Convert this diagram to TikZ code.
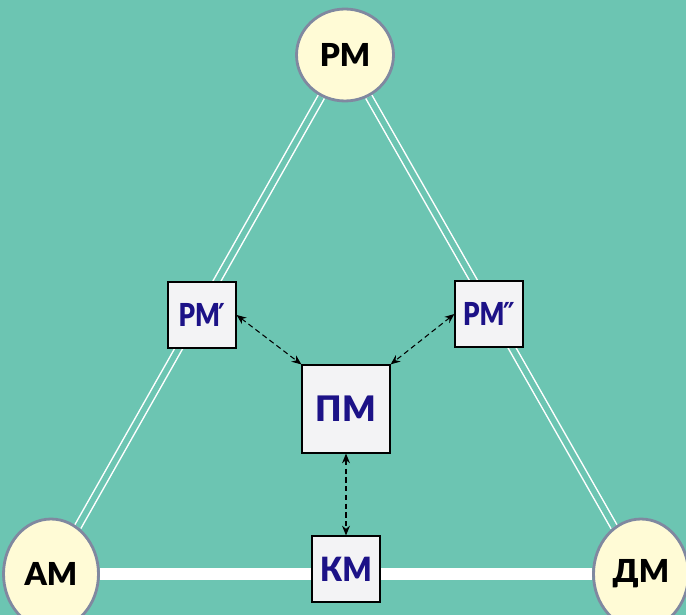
\documentclass[tikz,border=0pt]{standalone}
\usepackage{fontspec}
\setmainfont{Lato}
\newfontfamily\heavy{Lato Black}
\newfontfamily\primefont{DejaVu Sans}
\usetikzlibrary{arrows.meta,shapes.geometric,backgrounds}
\definecolor{sea}{RGB}{108,197,178}
\definecolor{cream}{RGB}{255,251,214}
\definecolor{rim}{RGB}{128,136,160}
\definecolor{ink}{RGB}{28,18,135}
\definecolor{paper}{RGB}{243,243,245}
\newcommand\narrow[1]{\scalebox{0.82}[1]{#1}}

\begin{document}
\begin{tikzpicture}[x=0.02cm,y=-0.02cm,
	model/.style={ellipse,draw=rim,line width=1.6pt,fill=cream,inner sep=0pt,
		minimum width=1.9cm,minimum height=2.2cm,font=\heavy\fontsize{18}{20}\selectfont},
	sub/.style={rectangle,draw=black,line width=0.7pt,fill=paper,inner sep=0pt,
		minimum width=1.36cm,minimum height=1.32cm,text=ink,font=\heavy\fontsize{19}{21}\selectfont},
	side/.style={draw=white,line width=0.85pt,double=sea,double distance=3.1pt},
	base/.style={draw=white,line width=7pt},
	link/.style={densely dashed,line width=0.6pt,{Stealth[length=5.5pt,width=4.5pt]}-{Stealth[length=5.5pt,width=4.5pt]}}]
		%%%%% START %%%%%
		
		\useasboundingbox (0,0) rectangle (686,615);
		
		% models
		\node[model,minimum width=1.94cm,minimum height=1.84cm] (rm) at (345,55) {РМ};
		\node[model] (am) at (51,574) {АМ};
		\node[model] (dm) at (641,574) {ДМ};
		
		% inner boxes
		\node[sub,font=\heavy\fontsize{18}{20}\selectfont] (rm1) at (202,315) {\narrow{РМ\kern-1pt{\primefont\bfseries ′}}};
		\node[sub,font=\heavy\fontsize{18}{20}\selectfont] (rm2) at (489,314) {\narrow{РМ\kern-1pt{\primefont\bfseries ″}}};
		\node[sub,minimum width=1.76cm,minimum height=1.76cm,font=\heavy\fontsize{20}{22}\selectfont] (pm) at (346,409) {ПМ};
		\node[sub] (km) at (346,569) {\scalebox{0.92}[1]{КМ}};
		
		\begin{pgfonlayer}{background}
			\fill[sea] (0,0) rectangle (686,615);
			\draw[side] (rm) -- (am);
			\draw[side] (rm) -- (dm);
			\draw[base] (am) -- (dm);
		\end{pgfonlayer}
		
		\draw[link] (rm1.east) -- (pm.north west);
		\draw[link] (rm2.west) -- (pm.north east);
		\draw[link] (pm) -- (km);
		
		%%%%% END %%%%%
\end{tikzpicture}
\end{document}
